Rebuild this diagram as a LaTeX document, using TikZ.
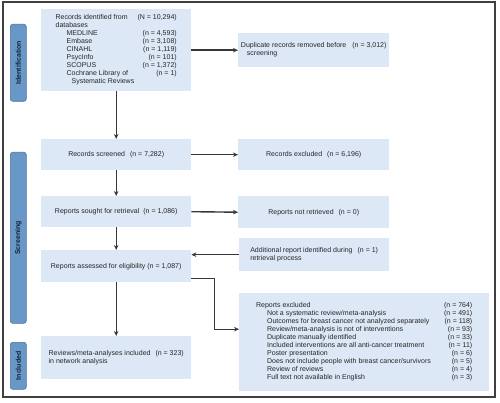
\documentclass[tikz,border=0pt]{standalone}
\usepackage{fontspec}
\setmainfont{Liberation Sans}
\usepackage{graphicx}
\usetikzlibrary{arrows.meta}
\definecolor{boxblue}{RGB}{220,232,246}
\definecolor{labblue}{RGB}{104,152,200}
\definecolor{labtext}{RGB}{20,35,60}
\definecolor{linegray}{RGB}{55,55,55}
\begin{document}
\begin{tikzpicture}[x=1pt,y=-1pt,
 box/.style={fill=boxblue, inner sep=0pt, anchor=north west, font=\fontsize{7}{8}\selectfont, text=black!85, align=center},
 lab/.style={fill=labblue, draw=labblue!75!black, line width=0.6pt, rounded corners=2.5pt, inner sep=0pt, anchor=north west, minimum width=16pt, font=\fontsize{7}{7}\selectfont\bfseries, text=labtext},
 arr/.style={draw=linegray, line width=1.4pt, -{Stealth[length=5pt,width=4.5pt]}},
]
\useasboundingbox (0,0) rectangle (500,403);
\draw[line width=2pt, draw=black!75] (3,2) rectangle (495,397);

% stage labels
\node[lab, minimum height=77pt] (L1) at (10,24) {\rotatebox{90}{Identification}};
\node[lab, minimum height=171pt] (L2) at (10,152) {\rotatebox{90}{Screening}};
\node[lab, minimum height=47pt] (L3) at (10,342) {\rotatebox{90}{Included}};

% boxes
\node[box, minimum width=150pt, minimum height=82pt] (id) at (41,9) {%
\begin{tabular}{@{}p{82pt}@{}r@{}}
Records identified from & (N = 10,294)\\
databases & \\
\hspace*{11pt}MEDLINE & (n = 4,593)\\
\hspace*{11pt}Embase & (n = 3,108)\\
\hspace*{11pt}CINAHL & (n = 1,119)\\
\hspace*{11pt}PsycInfo & (n = 101)\\
\hspace*{11pt}SCOPUS & (n = 1,372)\\
\hspace*{11pt}Cochrane Library of & (n = 1)\\
\hspace*{16pt}Systematic Reviews &
\end{tabular}};

\node[box, minimum width=151pt, minimum height=34pt] (dup) at (238,33) {%
\begin{tabular}{@{}l@{\hspace{6pt}}l@{}}
Duplicate records removed before & (n = 3,012)\\
\hspace*{6pt}screening &
\end{tabular}};

\node[box, minimum width=150pt, minimum height=31pt] (rs) at (41,139) {Records screened\hspace{5pt}(n = 7,282)};
\node[box, minimum width=151pt, minimum height=31pt] (rex) at (238,139) {Records excluded\hspace{5pt}(n = 6,196)};
\node[box, minimum width=150pt, minimum height=31pt] (sought) at (41,196) {Reports sought for retrieval\hspace{4pt}(n = 1,086)};
\node[box, minimum width=151pt, minimum height=32pt] (nr) at (238,196) {Reports not retrieved\hspace{5pt}(n = 0)};

\node[box, minimum width=150pt, minimum height=33pt] (add) at (239,238) {%
\begin{tabular}{@{}l@{\hspace{5pt}}l@{}}
Additional report identified during & (n = 1)\\
retrieval process &
\end{tabular}};

\node[box, minimum width=150pt, minimum height=32pt] (assess) at (41,250) {Reports assessed for eligibility (n = 1,087)};

\node[box, minimum width=150pt, minimum height=43pt] (inc) at (41,336) {%
\begin{tabular}{@{}l@{\hspace{5pt}}l@{}}
Reviews/meta-analyses included & (n = 323)\\
in network analysis &
\end{tabular}};

\node[box, minimum width=250pt, minimum height=98pt] (exc) at (239,293) {%
\begin{tabular}{@{}p{188pt}@{}r@{}}
Reports excluded & (n = 764)\\
\hspace*{11pt}Not a systematic review/meta-analysis & (n = 491)\\
\hspace*{11pt}Outcomes for breast cancer not analyzed separately & (n = 118)\\
\hspace*{11pt}Review/meta-analysis is not of interventions & (n = 93)\\
\hspace*{11pt}Duplicate manually identified & (n = 33)\\
\hspace*{11pt}Included interventions are all anti-cancer treatment & (n = 11)\\
\hspace*{11pt}Poster presentation & (n = 6)\\
\hspace*{11pt}Does not include people with breast cancer/survivors & (n = 5)\\
\hspace*{11pt}Review of reviews & (n = 4)\\
\hspace*{11pt}Full text not available in English & (n = 3)
\end{tabular}};

% connectors
\draw[arr] (id.east) -- (dup.west);
\draw[arr] (id.south) -- (rs.north);
\draw[arr] (rs.east) -- (rex.west);
\draw[arr] (rs.south) -- (sought.north);
\draw[arr] (sought.east) -- (nr.west);
\draw[arr] (sought.south) -- (assess.north);
\draw[arr] (add.west) -- (add.west -| assess.east);
\draw[arr] ([yshift=4pt]assess.south east) -- ++(23,0) |- ([yshift=13pt]exc.west);
\draw[arr] (assess.south) -- (inc.north);
\end{tikzpicture}
\end{document}
